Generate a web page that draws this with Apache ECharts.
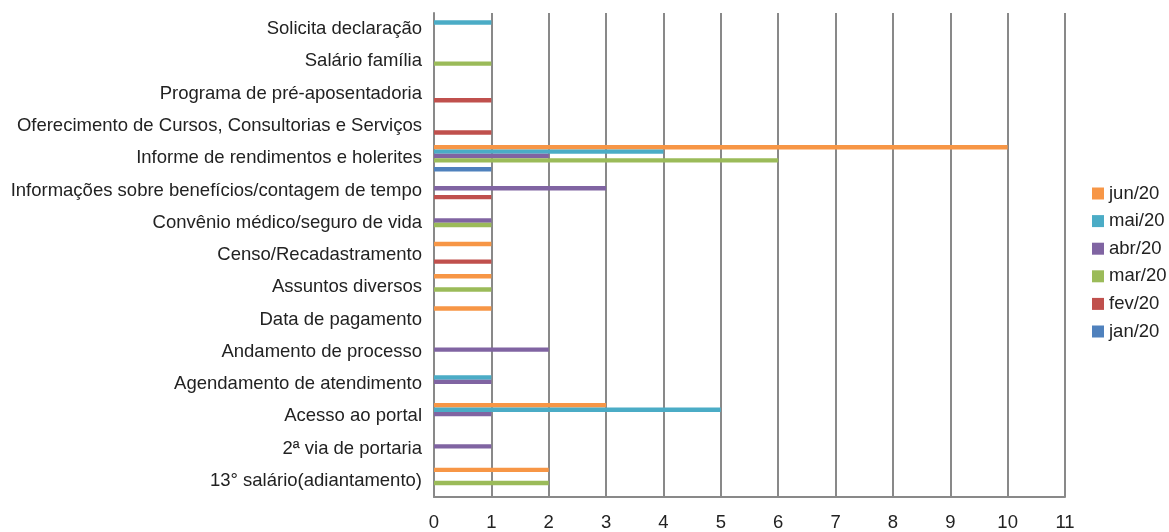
<!DOCTYPE html>
<html>
<head>
<meta charset="utf-8">
<script src="https://cdn.jsdelivr.net/npm/echarts@6/dist/echarts.min.js"></script>
<style>
html,body{margin:0;padding:0;background:#fff;}
#chart{width:1169px;height:532px;}
</style>
</head>
<body>
<div id="chart"></div>
<script>
// Categories listed bottom to top
const categories = [
  "13° salário(adiantamento)",
  "2ª via de portaria",
  "Acesso ao portal",
  "Agendamento de atendimento",
  "Andamento de processo",
  "Data de pagamento",
  "Assuntos diversos",
  "Censo/Recadastramento",
  "Convênio médico/seguro de vida",
  "Informações sobre benefícios/contagem de tempo",
  "Informe de rendimentos e holerites",
  "Oferecimento de Cursos, Consultorias e Serviços",
  "Programa de pré-aposentadoria",
  "Salário família",
  "Solicita declaração"
];
const jun20 = [2, 0, 3, 0, 0, 1, 1, 1, 0, 0, 10, 0, 0, 0, 0];
const mai20 = [0, 0, 5, 1, 0, 0, 0, 0, 0, 0, 4, 0, 0, 0, 1];
const abr20 = [0, 1, 1, 1, 2, 0, 0, 0, 1, 3, 2, 0, 0, 0, 0];
const mar20 = [2, 0, 0, 0, 0, 0, 1, 0, 1, 0, 6, 0, 0, 1, 0];
const fev20 = [0, 0, 0, 0, 0, 0, 0, 1, 0, 1, 0, 1, 1, 0, 0];
const jan20 = [0, 0, 0, 0, 0, 0, 0, 0, 0, 0, 1, 0, 0, 0, 0];
const seriesNames = ["jun/20", "mai/20", "abr/20", "mar/20", "fev/20", "jan/20"];
const seriesData = [jun20, mai20, abr20, mar20, fev20, jan20];
const seriesColors = ["#F79646", "#4BACC6", "#8064A2", "#9BBB59", "#C0504D", "#4F81BD"];
const xMin = 0, xMax = 11, xStep = 1;

const FONT = "'Liberation Sans', Arial, sans-serif";
const chart = echarts.init(document.getElementById('chart'), null, {renderer: 'canvas'});
chart.setOption({
  backgroundColor: '#ffffff',
  animation: false,
  textStyle: {fontFamily: FONT},
  grid: {left: 434, right: 104, top: 13, bottom: 33, containLabel: false},
  legend: {
    orient: 'vertical',
    left: 1092,
    top: 184,
    padding: 0,
    itemWidth: 12,
    itemHeight: 12,
    itemGap: 8.6,
    icon: 'rect',
    data: seriesNames,
    textStyle: {fontFamily: FONT, fontSize: 18.5, color: '#222', lineHeight: 19}
  },
  xAxis: {
    type: 'value',
    min: xMin, max: xMax, interval: xStep,
    axisLine: {show: true, lineStyle: {color: '#898989', width: 2}},
    axisTick: {show: false},
    splitLine: {show: true, lineStyle: {color: '#898989', width: 2}},
    axisLabel: {fontFamily: FONT, fontSize: 18.5, color: '#222', margin: 16}
  },
  yAxis: {
    type: 'category',
    data: categories,
    axisLine: {show: true, lineStyle: {color: '#898989', width: 2}},
    axisTick: {show: false},
    splitLine: {show: false},
    axisLabel: {fontFamily: FONT, fontSize: 18.5, color: '#222', margin: 12, interval: 0}
  },
  series: seriesNames.map((n, i) => ({
    name: n,
    type: 'bar',
    data: seriesData[i],
    itemStyle: {color: seriesColors[i]},
    barGap: '0%',
    barCategoryGap: '18%'
  }))
});
</script>
</body>
</html>
